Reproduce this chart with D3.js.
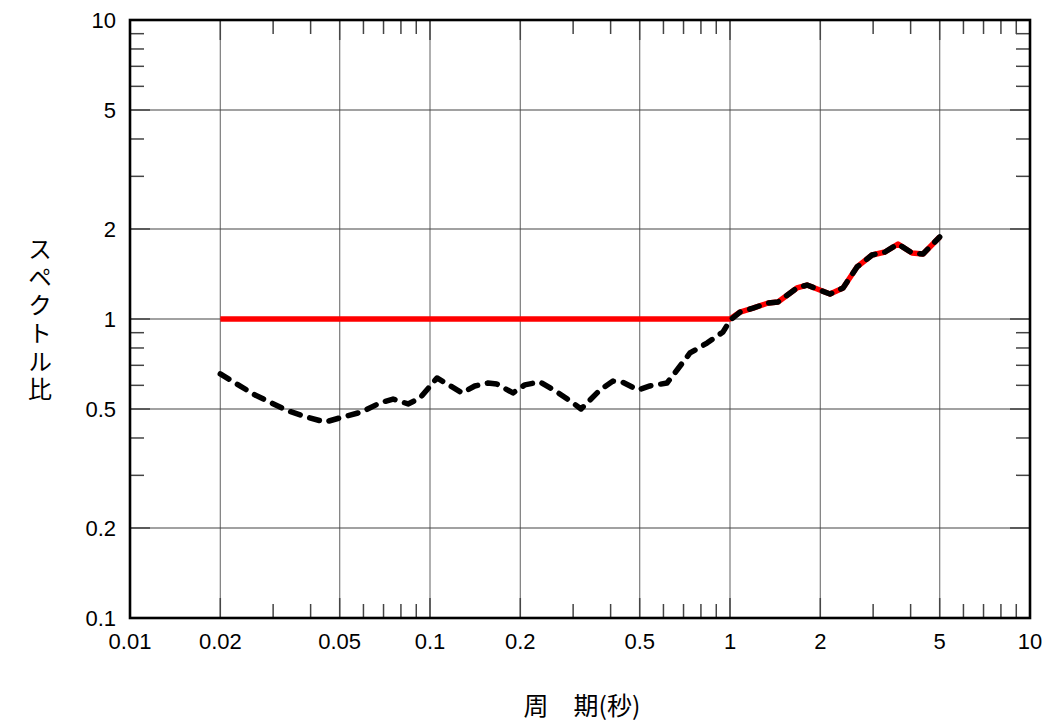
<!DOCTYPE html>
<html>
<head>
<meta charset="utf-8">
<script src="https://cdn.jsdelivr.net/npm/d3@7"></script>
<style>
  body { margin: 0; background: #fff; }
  svg { display: block; }
</style>
</head>
<body>
<svg id="chart" width="1058" height="726"></svg>
<script>
// Period (s) and observed spectral ratio
const periods = [0.02, 0.0261, 0.0336, 0.0389, 0.0447, 0.0501, 0.0593, 0.0681, 0.0753, 0.0845,
  0.0926, 0.1055, 0.128, 0.141, 0.156, 0.167, 0.189, 0.207, 0.2326, 0.265,
  0.2997, 0.3187, 0.3687, 0.4074, 0.4365, 0.4935, 0.541, 0.6166, 0.666, 0.7356,
  0.838, 0.948, 1.0, 1.08, 1.193, 1.339, 1.445, 1.672, 1.806, 2.154,
  2.381, 2.651, 2.974, 3.286, 3.631, 4.044, 4.399, 5.0];
const ratios = [0.655, 0.557, 0.493, 0.470, 0.452, 0.467, 0.489, 0.524, 0.540, 0.520,
  0.544, 0.635, 0.566, 0.597, 0.611, 0.606, 0.566, 0.602, 0.616, 0.570,
  0.524, 0.500, 0.579, 0.620, 0.616, 0.579, 0.597, 0.611, 0.675, 0.770,
  0.831, 0.905, 0.99, 1.055, 1.088, 1.131, 1.14, 1.27, 1.299, 1.212,
  1.27, 1.493, 1.637, 1.675, 1.782, 1.662, 1.650, 1.88];
// Design ratio: never below 1
const floorValue = 1;
const designRatios = ratios.map(v => Math.max(floorValue, v));

const xTickValues = [0.01, 0.02, 0.05, 0.1, 0.2, 0.5, 1, 2, 5, 10];
const xTickLabels = ["0.01", "0.02", "0.05", "0.1", "0.2", "0.5", "1", "2", "5", "10"];
const yTickValues = [0.1, 0.2, 0.5, 1, 2, 5, 10];
const yTickLabels = ["0.1", "0.2", "0.5", "1", "2", "5", "10"];
const minorSteps = [3, 4, 6, 7, 8, 9];
const xTitle = "周\u3000期(秒)";
const yTitle = "スペクトル比";

const margin = { left: 130, top: 20 };
const W = 900, H = 598;

const svg = d3.select("#chart");
const g = svg.append("g").attr("transform", `translate(${margin.left},${margin.top})`);

const x = d3.scaleLog().domain([0.01, 10]).range([0, W]);
const y = d3.scaleLog().domain([0.1, 10]).range([H, 0]);

function minors(lo, hi) {
  const out = [];
  for (let d = lo; d < hi; d *= 10) minorSteps.forEach(m => out.push(d * m));
  return out;
}
const xMinor = minors(0.01, 10);
const yMinor = minors(0.1, 10);

const xGrid = xTickValues.filter(v => v > 0.01 && v < 10);
const yGrid = yTickValues.filter(v => v > 0.1 && v < 10);

// grid lines
g.append("g").selectAll("line").data(xGrid).join("line")
  .attr("x1", d => x(d)).attr("x2", d => x(d)).attr("y1", 0).attr("y2", H)
  .attr("stroke", "#7a7a7a").attr("stroke-width", 1.2);
g.append("g").selectAll("line").data(yGrid).join("line")
  .attr("y1", d => y(d)).attr("y2", d => y(d)).attr("x1", 0).attr("x2", W)
  .attr("stroke", "#444").attr("stroke-width", 1.2);

// ticks on all four sides
const minorLen = 14, majorLen = 20;
const tickG = g.append("g").attr("stroke", "#444").attr("stroke-width", 1.5);
[[0, 1], [H, -1]].forEach(([y0, dir]) => {
  tickG.append("g").selectAll("line").data(xMinor).join("line")
    .attr("x1", d => x(d)).attr("x2", d => x(d)).attr("y1", y0).attr("y2", y0 + dir * minorLen);
  tickG.append("g").selectAll("line").data(xGrid).join("line")
    .attr("x1", d => x(d)).attr("x2", d => x(d)).attr("y1", y0).attr("y2", y0 + dir * majorLen);
});
[[0, 1], [W, -1]].forEach(([x0, dir]) => {
  tickG.append("g").selectAll("line").data(yMinor).join("line")
    .attr("y1", d => y(d)).attr("y2", d => y(d)).attr("x1", x0).attr("x2", x0 + dir * minorLen);
  tickG.append("g").selectAll("line").data(yGrid).join("line")
    .attr("y1", d => y(d)).attr("y2", d => y(d)).attr("x1", x0).attr("x2", x0 + dir * majorLen);
});

// data lines
const line = d3.line().x(d => x(d[0])).y(d => y(d[1])).curve(d3.curveLinear);
g.append("path")
  .datum(periods.map((p, i) => [p, designRatios[i]]))
  .attr("d", line).attr("fill", "none")
  .attr("stroke", "#ff0000").attr("stroke-width", 5.5).attr("stroke-linejoin", "round");
g.append("path")
  .datum(periods.map((p, i) => [p, ratios[i]]))
  .attr("d", line).attr("fill", "none")
  .attr("stroke", "#000").attr("stroke-width", 5.5)
  .attr("stroke-dasharray", "10,10").attr("stroke-linecap", "round").attr("stroke-linejoin", "round");

// frame
g.append("rect").attr("x", 0).attr("y", 0).attr("width", W).attr("height", H)
  .attr("fill", "none").attr("stroke", "#000").attr("stroke-width", 2.6);

// tick labels
const labelFont = "'Liberation Sans', Arial, sans-serif";
g.append("g").selectAll("text").data(xTickValues).join("text")
  .attr("x", d => x(d)).attr("y", H + 31)
  .attr("text-anchor", "middle")
  .attr("font-family", labelFont).attr("font-size", 22).attr("fill", "#000")
  .text((d, i) => xTickLabels[i]);
g.append("g").selectAll("text").data(yTickValues).join("text")
  .attr("x", -14).attr("y", d => y(d)).attr("dy", "0.35em")
  .attr("text-anchor", "end")
  .attr("font-family", labelFont).attr("font-size", 22).attr("fill", "#000")
  .text((d, i) => yTickLabels[i]);

// axis titles
const cjkFont = "'Noto Sans CJK JP', sans-serif";
svg.append("text")
  .attr("x", 582).attr("y", 715).attr("text-anchor", "middle")
  .attr("font-family", cjkFont).attr("font-size", 25).attr("fill", "#000")
  .text(xTitle);
svg.append("text")
  .attr("x", 40).attr("y", 237)
  .attr("font-family", cjkFont).attr("font-size", 24).attr("fill", "#000")
  .style("writing-mode", "vertical-rl")
  .style("letter-spacing", "4px")
  .text(yTitle);
</script>
</body>
</html>
